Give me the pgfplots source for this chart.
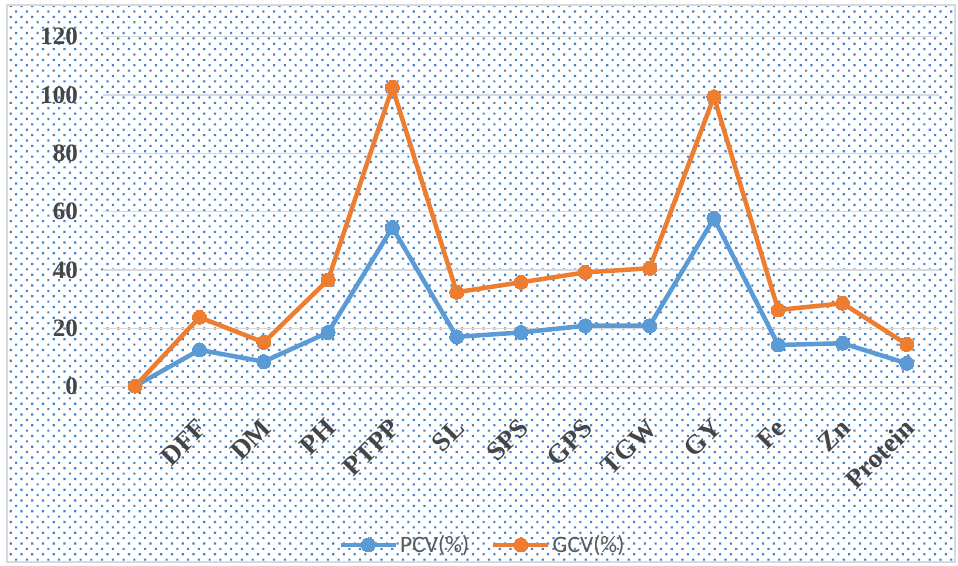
\documentclass[border=0pt]{standalone}
\usepackage{fontspec}
\setmainfont{Liberation Serif}
\newfontfamily\legendfont{Carlito}
\usepackage{pgfplots}
\pgfplotsset{compat=1.18}
\usetikzlibrary{patterns.meta}
\definecolor{pcvblue}{HTML}{5B9BD5}
\definecolor{gcvorange}{HTML}{ED7D31}
\definecolor{gridgray}{HTML}{D9D9D9}
\definecolor{labelgray}{HTML}{454545}
\definecolor{legendgray}{HTML}{595959}
\definecolor{dotblue}{RGB}{70,130,200}
\begin{document}
\begin{tikzpicture}[x=1pt,y=1pt]
\fill[white] (0,0) rectangle (958,565);
\fill[pattern={Dots[radius=1.5pt,distance=7.6pt,angle=45]},pattern color=dotblue] (7,3) rectangle (955,560);
\draw[gridgray,line width=1.2pt] (7,3) rectangle (955,560);
\begin{axis}[
  at={(103pt,178.3pt)}, anchor=south west,
  scale only axis, width=836pt, height=350pt,
  xmin=-0.5, xmax=12.5, ymin=0, ymax=120,
  xtick={0,...,12},
  xticklabels={{},DFF,DM,PH,PTPP,SL,SPS,GPS,TGW,GY,Fe,Zn,Protein},
  ytick={0,20,...,120},
  ymajorgrids, grid style={gridgray,line width=1.5pt},
  axis line style={draw=none},
  major tick length=0pt,
  /pgf/number format/assume math mode=true,
  yticklabel style={font=\fontsize{25}{25}\selectfont\bfseries, text=labelgray, anchor=east, inner sep=0pt, xshift=-25pt},
  xticklabel style={font=\fontsize{27}{27}\selectfont\bfseries, text=labelgray, inner sep=0pt, xshift=3pt, yshift=-37pt, rotate=45, anchor=east},
  clip=false,
  legend columns=2,
  legend style={at={(0.454,-0.452)}, anchor=center, draw=none, fill=none,
    font=\legendfont\fontsize{23.5}{23.5}\selectfont, text=legendgray,
    /tikz/every even column/.append style={column sep=20pt}},
  legend image code/.code={\draw[mark repeat=2,mark phase=2] plot coordinates {(0pt,0pt) (27.5pt,0pt) (55pt,0pt)};},
]
\addplot[pcvblue, line width=4.5pt, mark=*, mark size=7pt, mark options={solid, fill=pcvblue, draw=pcvblue, line width=0pt}] coordinates {
(0,0.2) (1,12.6) (2,8.6) (3,18.6) (4,54.6) (5,17.1) (6,18.6) (7,20.9) (8,20.9) (9,57.7) (10,14.3) (11,14.9) (12,8.0)};
\addlegendentry{PCV(\%)}
\addplot[gcvorange, line width=4.5pt, mark=*, mark size=7pt, mark options={solid, fill=gcvorange, draw=gcvorange, line width=0pt}] coordinates {
(0,0.2) (1,23.8) (2,15.2) (3,36.6) (4,102.6) (5,32.4) (6,35.8) (7,39.2) (8,40.6) (9,99.4) (10,26.3) (11,28.6) (12,14.5)};
\addlegendentry{GCV(\%)}
\end{axis}
\pgfresetboundingbox
\useasboundingbox (0,0) rectangle (958,565);
\end{tikzpicture}
\end{document}
